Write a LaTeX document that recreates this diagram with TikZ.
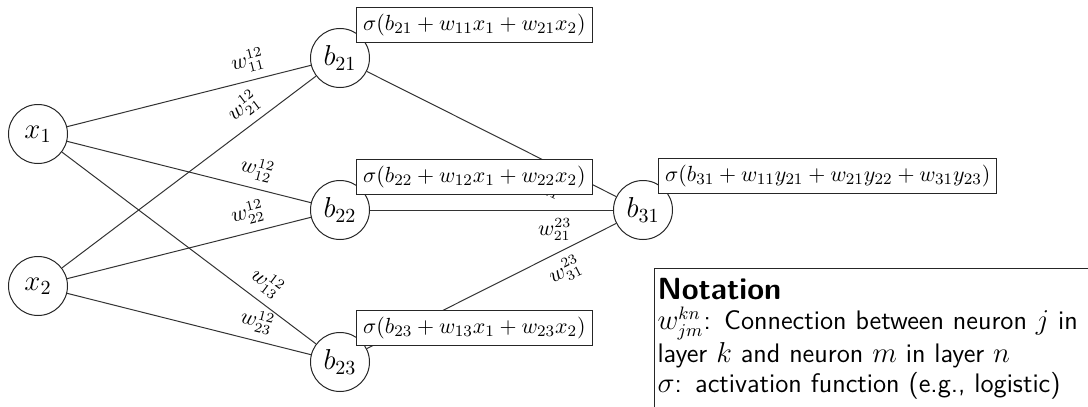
\documentclass[tikz,border=0pt]{standalone}
\usepackage{amsmath}
\begin{document}
\begin{tikzpicture}[x=0.5pt,y=-0.5pt,
  neuron/.style={circle,draw=black!85,line width=0.5pt,minimum size=29.5pt,inner sep=0pt,font=\fontsize{14.4}{17}\selectfont},
  actbox/.style={draw=black!85,line width=0.5pt,fill=white,anchor=south west,inner sep=3.3pt,font=\fontsize{10.8}{13}\selectfont},
  conn/.style={draw=black!80,line width=0.5pt},
  wl/.style={sloped,pos=0.76,font=\fontsize{10.5}{13}\selectfont,inner sep=3.8pt},
  notebox/.style={draw=black!85,line width=0.5pt,fill=white,anchor=north west,align=left,text width=226pt,inner xsep=1.5pt,inner ysep=5pt,font=\sffamily\fontsize{13.4}{15}\selectfont}]
\clip (0,0) rectangle (1088,407);
\useasboundingbox (0,0) rectangle (1088,407);
\node[neuron] (x1) at (38,134) {$x_1$};
\node[neuron] (x2) at (38,286) {$x_2$};
\node[neuron] (b21) at (340,58) {$b_{21}$};
\node[neuron] (b22) at (340,210) {$b_{22}$};
\node[neuron] (b23) at (340,362) {$b_{23}$};
\node[neuron] (b31) at (643,210) {$b_{31}$};
\path[conn] (x1) -- node[wl,above] {$w^{12}_{11}$} (b21);
\path[conn] (x2) -- node[wl,above] {$w^{12}_{21}$} (b21);
\path[conn] (x1) -- node[wl,above] {$w^{12}_{12}$} (b22);
\path[conn] (x2) -- node[wl,above] {$w^{12}_{22}$} (b22);
\path[conn] (x1) -- node[wl,above] {$w^{12}_{13}$} (b23);
\path[conn] (x2) -- node[wl,above] {$w^{12}_{23}$} (b23);
\path[conn] (b21) -- node[wl,below] {$w^{23}_{11}$} (b31);
\path[conn] (b22) -- node[wl,below] {$w^{23}_{21}$} (b31);
\path[conn] (b23) -- node[wl,below] {$w^{23}_{31}$} (b31);
\node[actbox] (a21) at (356,43) {$\sigma(b_{21}+w_{11}x_1+w_{21}x_2)$};
\node[actbox] (a22) at (356,195) {$\sigma(b_{22}+w_{12}x_1+w_{22}x_2)$};
\node[actbox] (a23) at (356,346) {$\sigma(b_{23}+w_{13}x_1+w_{23}x_2)$};
\node[actbox] (a31) at (658,194) {$\sigma(b_{31}+w_{11}y_{21}+w_{21}y_{22}+w_{31}y_{23})$};
\node[notebox] (note) at (654,268) {{\fontsize{15.3}{15}\selectfont\bfseries Notation}\\
$w^{kn}_{jm}$: Connection between neuron $j$ in layer $k$ and neuron $m$ in layer $n$\\
$\sigma$: activation function (e.g., logistic)\\ \strut};
\end{tikzpicture}
\end{document}
